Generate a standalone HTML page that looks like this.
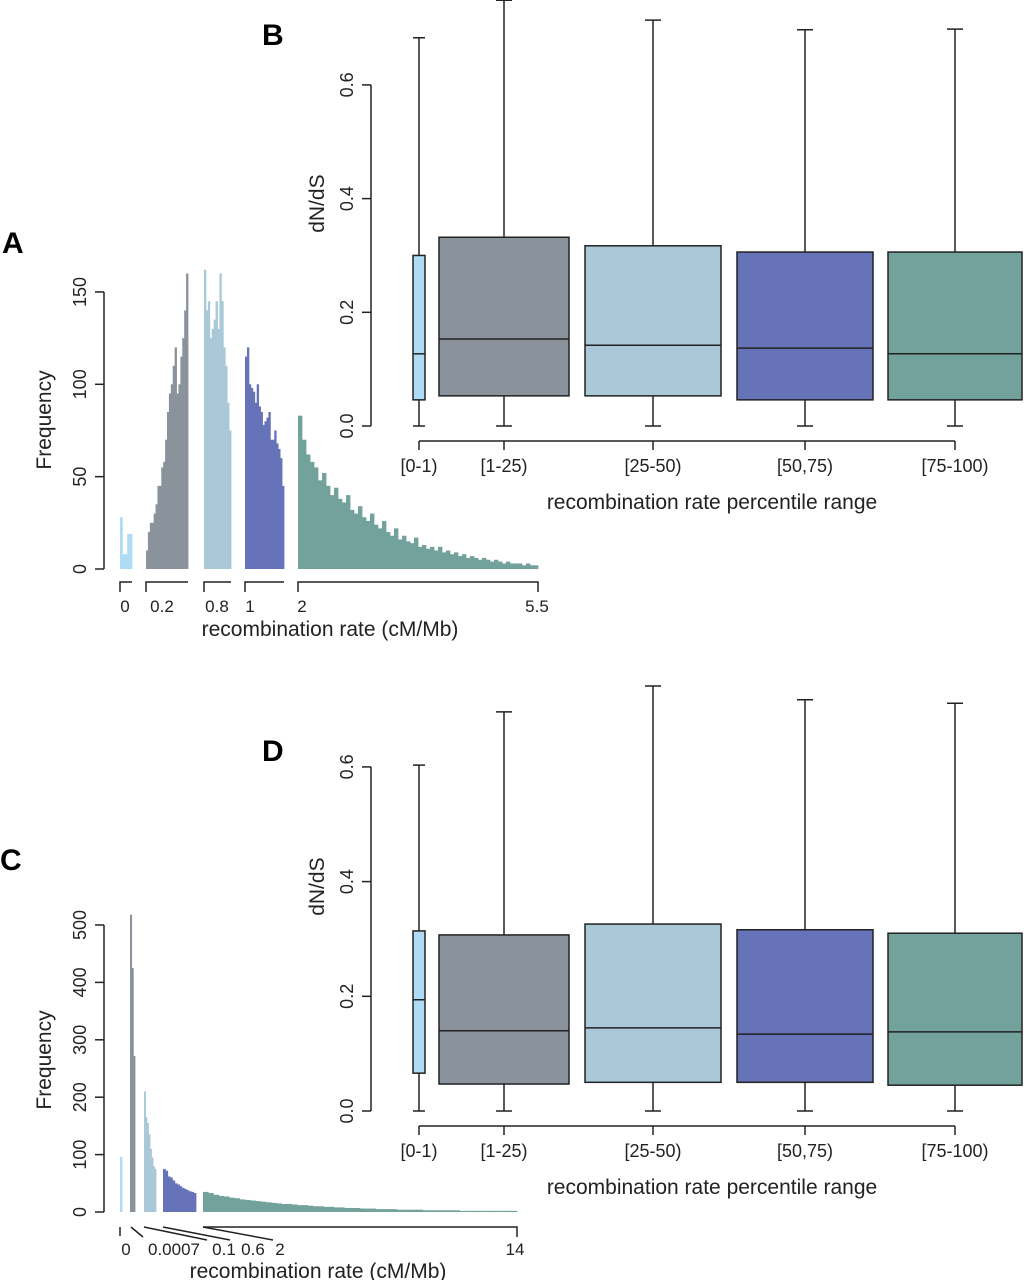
<!DOCTYPE html>
<html><head><meta charset="utf-8"><style>
html,body{margin:0;padding:0;background:#fff}
svg{display:block;font-family:"Liberation Sans",Arial,sans-serif}
</style></head><body>
<svg id="fig" width="1024" height="1280" viewBox="0 0 1024 1280" xmlns="http://www.w3.org/2000/svg">
<text x="2" y="253" font-size="30" font-weight="bold">A</text>
<text x="262" y="45" font-size="30" font-weight="bold">B</text>
<text x="0" y="870" font-size="30" font-weight="bold">C</text>
<text x="262" y="761" font-size="30" font-weight="bold">D</text>
<g id="gA"></g>
<g id="gB"></g>
<g id="gC"></g>
<g id="gD"></g>
</svg>
<script>
const colors = ["#aedcf4","#8a939b","#a9c8d8","#6673b8","#72a29b"];
// Histogram A data (frequency per bin, per recombination-rate group)
const histA0 = [28,8,8,19,19];
const histA1 = [10,20,25,25,30,35,45,45,55,58,70,85,95,100,110,120,95,100,115,125,140,160];
const histA2 = [162,140,145,125,130,135,145,130,160,145,120,110,90,75];
const histA3 = [115,120,100,98,96,90,100,88,85,78,80,82,85,70,70,75,68,65,60,45];
const histA4 = [83,70,62,58,55,48,52,45,40,44,38,36,40,32,30,34,28,26,30,24,22,26,20,18,22,16,18,15,14,17,12,13,11,12,10,12,9,10,8,9,7,8,6,7,6,5,6,5,4,5,4,3,4,3,3,3,2,3,2,2];
const histALabels = ["0","0.2","0.8","1","2","5.5"];
// Histogram C data
const histC0 = [96];
const histC1 = [518,425,272];
const histC2 = [210,165,155,135,110,95,80,75];
const histC3 = [75,72,62,60,55,50,48,45,42,40,38,36,35,33];
const histC4 = [35,33,30,28,27,25,24,22,21,20,19,18,17,16,15,14,14,13,12,12,11,10,10,9,9,8,8,7,7,7,6,6,6,5,5,5,5,4,4,4,4,4,3,3,3,3,3,3,3,2,2,2,2,2,2,2,2,2,2,2];
const histCLabels = ["0","0.0007","0.1","0.6","2","14"];
// Boxplots
const boxCats = ["[0-1)","[1-25)","[25-50)","[50,75)","[75-100)"];
const boxB_lo = [0,0,0,0,0];
const boxB_q1 = [0.046,0.053,0.053,0.046,0.046];
const boxB_med = [0.127,0.153,0.142,0.137,0.127];
const boxB_q3 = [0.300,0.332,0.317,0.306,0.306];
const boxB_hi = [0.683,0.749,0.714,0.697,0.698];
const boxD_lo = [0,0,0,0,0];
const boxD_q1 = [0.066,0.047,0.050,0.050,0.045];
const boxD_med = [0.194,0.140,0.145,0.134,0.138];
const boxD_q3 = [0.314,0.307,0.326,0.316,0.310];
const boxD_hi = [0.603,0.696,0.741,0.717,0.711];
const yTicksBox = [0,0.2,0.4,0.6];
const yTicksA = [0,50,100,150];
const yTicksC = [0,100,200,300,400,500];

const NS="http://www.w3.org/2000/svg";
function mk(parent,tag,attrs,text){const e=document.createElementNS(NS,tag);for(const k in attrs)e.setAttribute(k,attrs[k]);if(text!==undefined)e.textContent=text;parent.appendChild(e);return e;}
const STK="#222";

function yAxis(g,x,y0,scale,ticks,title,titleX,titleY){
  const top=scale(ticks[ticks.length-1]);
  let ax=mk(g,"line",{x1:x,x2:x,y1:y0,y2:top,stroke:STK,"stroke-width":1.5});
  
  
  ticks.forEach(t=>{const y=scale(t);
    let l=mk(g,"line",{x1:x-9,x2:x,y1:y,y2:y,stroke:STK,"stroke-width":1.5});
    
    
    let tx=mk(g,"text",{x:x-24,y:y,"font-size":18,fill:"#222","text-anchor":"middle",transform:`rotate(-90 ${x-24} ${y})`,"dominant-baseline":"central"},typeof t==="number"&&t<1&&ticks[ticks.length-1]<1?t.toFixed(1):String(t));
    
    
  });
  let tt=mk(g,"text",{x:titleX,y:titleY,"font-size":21,fill:"#222","text-anchor":"middle",transform:`rotate(-90 ${titleX} ${titleY})`},title);
  
  
}

function hist(g,groups,ranges,y0,scale){
  groups.forEach((arr,gi)=>{
    const [a,b]=ranges[gi];const w=(b-a)/arr.length;
    arr.forEach((v,i)=>{
      const y=scale(v);
      let r=mk(g,"rect",{x:a+i*w,y:y,width:w+0.4,height:y0-y,fill:colors[gi]});
      
      
    });
  });
}

// Panel A
(function(){
  const g=document.getElementById("gA");
  const y0=569, sc=v=>y0-v*1.847;
  const ranges=[[120,132],[146,188],[204,231],[245,284],[298,538]];
  hist(g,[histA0,histA1,histA2,histA3,histA4],ranges,y0,sc);
  yAxis(g,104,y0,sc,yTicksA,"Frequency",51,420);
  ranges.forEach((r,i)=>{
    let p=mk(g,"path",{d:`M${r[0]},592 V582 H${r[1]}`+(i===4?" V592":""),fill:"none",stroke:STK,"stroke-width":1.5});
    
    
  });
  const lx=[125,162,217,250,302,537];
  histALabels.forEach((s,i)=>{
    let t=mk(g,"text",{x:lx[i],y:612,"font-size":17,fill:"#222","text-anchor":"middle"},s);
    
    
  });
  let t=mk(g,"text",{x:330,y:636,"font-size":21,fill:"#222","text-anchor":"middle"},"recombination rate (cM/Mb)");
  
  
})();

// Panel C
(function(){
  const g=document.getElementById("gC");
  const y0=1212, sc=v=>y0-v*0.574;
  const ranges=[[120,122],[130,135],[144,156],[163,196],[203,517]];
  hist(g,[histC0,histC1,histC2,histC3,histC4],ranges,y0,sc);
  yAxis(g,104,y0,sc,yTicksC,"Frequency",51,1060);
  const segs=["M120,1227 V1236","M131,1227 L143,1237","M144,1227 L207,1240","M163,1227 L230,1240","M203,1227 H517 V1237","M203,1227 L273,1240"];
  segs.forEach(d=>{
    let p=mk(g,"path",{d:d,fill:"none",stroke:STK,"stroke-width":1.5});
    
    
  });
  const lx=[126,174,224,253,280,515];
  histCLabels.forEach((s,i)=>{
    let t=mk(g,"text",{x:lx[i],y:1255,"font-size":17,fill:"#222","text-anchor":"middle"},s);
    
    
  });
  let t=mk(g,"text",{x:318,y:1278,"font-size":21,fill:"#222","text-anchor":"middle"},"recombination rate (cM/Mb)");
  
  
})();

function boxplot(id,y0,pxPer02,axY,lo,q1,med,q3,hi){
  const g=document.getElementById(id);
  const sc=v=>y0-v/0.2*pxPer02;
  const cx=[419,504,653,805,955], hw=[6,65,68,68,67], cap=[6,8,8,8,8];
  yAxis(g,371,y0,sc,yTicksBox,"dN/dS",324,sc(0.4)+5);
  boxCats.forEach((c,i)=>{
    const yl=sc(lo[i]),y1=sc(q1[i]),ym=sc(med[i]),y3=sc(q3[i]),yh=sc(hi[i]);
    let w=mk(g,"path",{d:`M${cx[i]},${yh} V${y3} M${cx[i]},${y1} V${yl} M${cx[i]-cap[i]},${yh} H${cx[i]+cap[i]} M${cx[i]-cap[i]},${yl} H${cx[i]+cap[i]}`,stroke:STK,"stroke-width":1.5,fill:"none"});
    
    
    let r=mk(g,"rect",{x:cx[i]-hw[i],y:y3,width:2*hw[i],height:y1-y3,fill:colors[i],stroke:STK,"stroke-width":1.5});
    
    
    let m=mk(g,"line",{x1:cx[i]-hw[i],x2:cx[i]+hw[i],y1:ym,y2:ym,stroke:STK,"stroke-width":1.5});
    
    
    let tk=mk(g,"line",{x1:cx[i],x2:cx[i],y1:axY,y2:axY+9,stroke:STK,"stroke-width":1.5});
    
    
    let t=mk(g,"text",{x:cx[i],y:axY+31,"font-size":18,fill:"#222","text-anchor":"middle"},c);
    
    
  });
  let ax=mk(g,"line",{x1:cx[0],x2:cx[4],y1:axY,y2:axY,stroke:STK,"stroke-width":1.5});
  
  
  let t=mk(g,"text",{x:712,y:axY+68,"font-size":21,fill:"#222","text-anchor":"middle"},"recombination rate percentile range");
  
  
}
boxplot("gB",426,113.7,441,boxB_lo,boxB_q1,boxB_med,boxB_q3,boxB_hi);
boxplot("gD",1111,114.7,1126,boxD_lo,boxD_q1,boxD_med,boxD_q3,boxD_hi);
</script>
</body></html>
